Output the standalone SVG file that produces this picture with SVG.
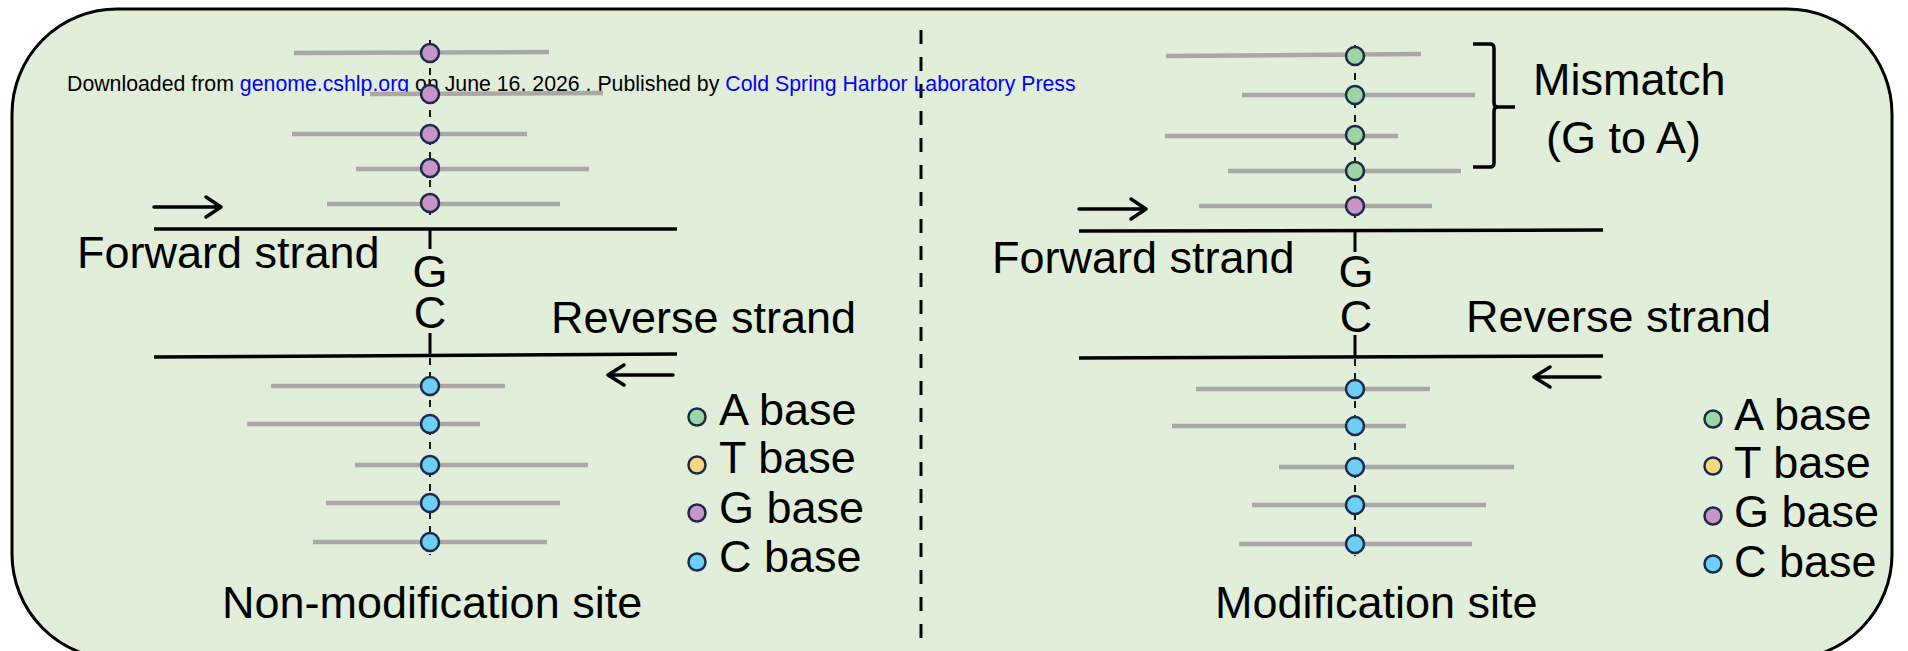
<svg xmlns="http://www.w3.org/2000/svg" width="1908" height="651" viewBox="0 0 1908 651">
<style>
.t{font-family:"Liberation Sans",Arial,sans-serif;font-size:45px;fill:#000}
.read{stroke:#aca7a7;stroke-width:4.5;fill:none}
.strand{stroke:#000;stroke-width:3.5;fill:none}
.stub{stroke:#000;stroke-width:3;fill:none}
.dash{stroke:#000;stroke-width:1.8;stroke-dasharray:7 7;fill:none}
.arr{stroke:#000;stroke-width:3.5;fill:none;stroke-linecap:round;stroke-linejoin:round}
.b{stroke:#1b2a4a;stroke-width:2.5}
.A{fill:#9ad5a2}.T{fill:#f8d67e}.G{fill:#c995c8}.C{fill:#6dcff6}
</style>
<rect x="12" y="9" width="1880" height="650" rx="105" ry="105" fill="#e1eed9" stroke="#000" stroke-width="3"/>
<g id="divider"><line x1="921" y1="30" x2="921" y2="651" stroke="#000" stroke-width="3" stroke-dasharray="14 13"/></g>
<g id="watermark"><text x="67" y="91" font-family="Liberation Sans, Arial, sans-serif" font-size="21.3" fill="#000">Downloaded from <tspan fill="#0000ff">genome.cshlp.org</tspan> on June 16, 2026 . Published by <tspan fill="#0000ff">Cold Spring Harbor Laboratory Press</tspan></text></g>

<g id="connectors">
<!-- left panel -->
<line class="dash" x1="430" y1="40" x2="430" y2="215"/>
<line class="dash" x1="430" y1="358" x2="430" y2="555"/>
<line class="read" x1="294" y1="53" x2="549" y2="52"/>
<line class="read" x1="370" y1="94" x2="603" y2="93"/>
<line class="read" x1="292" y1="134" x2="527" y2="134"/>
<line class="read" x1="356" y1="169" x2="589" y2="169"/>
<line class="read" x1="327" y1="204" x2="560" y2="204"/>
<line class="read" x1="271" y1="386" x2="505" y2="386"/>
<line class="read" x1="247" y1="424" x2="480" y2="424"/>
<line class="read" x1="355" y1="465" x2="588" y2="465"/>
<line class="read" x1="326" y1="503" x2="560" y2="503"/>
<line class="read" x1="313" y1="542" x2="547" y2="542"/>
<line class="strand" x1="154" y1="229" x2="677" y2="229"/>
<line class="strand" x1="154" y1="357" x2="677" y2="354"/>
<line class="stub" x1="430" y1="229" x2="430" y2="249"/>
<line class="stub" x1="430" y1="333" x2="430" y2="355"/>
<path class="arr" d="M154 207 H221 M206 197 L221 207 L206 217"/>
<path class="arr" d="M673 375 H608 M624 365 L608 375 L624 385"/>
<!-- right panel -->
<line class="dash" x1="1355" y1="45" x2="1355" y2="218"/>
<line class="dash" x1="1355" y1="359" x2="1355" y2="556"/>
<line class="read" x1="1166" y1="56" x2="1421" y2="54"/>
<line class="read" x1="1242" y1="95" x2="1475" y2="95"/>
<line class="read" x1="1165" y1="136" x2="1398" y2="136"/>
<line class="read" x1="1228" y1="171" x2="1461" y2="171"/>
<line class="read" x1="1199" y1="206" x2="1432" y2="206"/>
<line class="read" x1="1196" y1="389" x2="1430" y2="389"/>
<line class="read" x1="1172" y1="426" x2="1406" y2="426"/>
<line class="read" x1="1279" y1="467" x2="1514" y2="467"/>
<line class="read" x1="1252" y1="505" x2="1486" y2="505"/>
<line class="read" x1="1239" y1="544" x2="1472" y2="544"/>
<line class="strand" x1="1079" y1="231" x2="1603" y2="230"/>
<line class="strand" x1="1079" y1="358" x2="1603" y2="356"/>
<line class="stub" x1="1355" y1="230" x2="1355" y2="252"/>
<line class="stub" x1="1355" y1="335" x2="1355" y2="357"/>
<path class="arr" d="M1079 209 H1146 M1131 199 L1146 209 L1131 219"/>
<path class="arr" d="M1600 377 H1534 M1550 367 L1534 377 L1550 387"/>
<path d="M1473 44 H1490 Q1494 44 1494 48 V103 Q1494 107 1498 107 H1515 M1498 107 Q1494 107 1494 111 V163 Q1494 167 1490 167 H1473" fill="none" stroke="#000" stroke-width="3.5"/>
</g>

<g id="left-reads-forward">
<circle class="b G" cx="430" cy="53" r="9"/>
<circle class="b G" cx="430" cy="94" r="9"/>
<circle class="b G" cx="430" cy="134" r="9"/>
<circle class="b G" cx="430" cy="168" r="9"/>
<circle class="b G" cx="430" cy="203" r="9"/>
</g>
<g id="left-reads-reverse">
<circle class="b C" cx="430" cy="386" r="9"/>
<circle class="b C" cx="430" cy="424" r="9"/>
<circle class="b C" cx="430" cy="465" r="9"/>
<circle class="b C" cx="430" cy="503" r="9"/>
<circle class="b C" cx="430" cy="542" r="9"/>
</g>
<g id="left-labels">
<text class="t" x="77" y="268">Forward strand</text>
<text class="t" x="430" y="287" text-anchor="middle">G</text>
<text class="t" x="430" y="328" text-anchor="middle">C</text>
<text class="t" x="551" y="333">Reverse strand</text>
<text class="t" x="222" y="618">Non-modification site</text>
</g>
<g id="left-legend">
<circle class="b A" cx="697" cy="417" r="8.5"/>
<circle class="b T" cx="697" cy="465" r="8.5"/>
<circle class="b G" cx="697" cy="513" r="8.5"/>
<circle class="b C" cx="697" cy="562" r="8.5"/>
<text class="t" x="719" y="425">A base</text>
<text class="t" x="719" y="473">T base</text>
<text class="t" x="719" y="523">G base</text>
<text class="t" x="719" y="572">C base</text>
</g>

<g id="right-reads-forward">
<circle class="b A" cx="1355" cy="56" r="9"/>
<circle class="b A" cx="1355" cy="95" r="9"/>
<circle class="b A" cx="1355" cy="135" r="9"/>
<circle class="b A" cx="1355" cy="171" r="9"/>
<circle class="b G" cx="1355" cy="206" r="9"/>
</g>
<g id="right-reads-reverse">
<circle class="b C" cx="1355" cy="389" r="9"/>
<circle class="b C" cx="1355" cy="426" r="9"/>
<circle class="b C" cx="1355" cy="467" r="9"/>
<circle class="b C" cx="1355" cy="505" r="9"/>
<circle class="b C" cx="1355" cy="544" r="9"/>
</g>
<g id="right-labels">
<text class="t" x="1533" y="95">Mismatch</text>
<text class="t" x="1546" y="153">(G to A)</text>
<text class="t" x="992" y="273">Forward strand</text>
<text class="t" x="1356" y="287" text-anchor="middle">G</text>
<text class="t" x="1356" y="332" text-anchor="middle">C</text>
<text class="t" x="1466" y="332">Reverse strand</text>
<text class="t" x="1215" y="618">Modification site</text>
</g>
<g id="right-legend">
<circle class="b A" cx="1713" cy="419" r="8.5"/>
<circle class="b T" cx="1713" cy="466" r="8.5"/>
<circle class="b G" cx="1713" cy="516" r="8.5"/>
<circle class="b C" cx="1713" cy="564" r="8.5"/>
<text class="t" x="1734" y="430">A base</text>
<text class="t" x="1734" y="478">T base</text>
<text class="t" x="1734" y="527">G base</text>
<text class="t" x="1734" y="577">C base</text>
</g>
</svg>
